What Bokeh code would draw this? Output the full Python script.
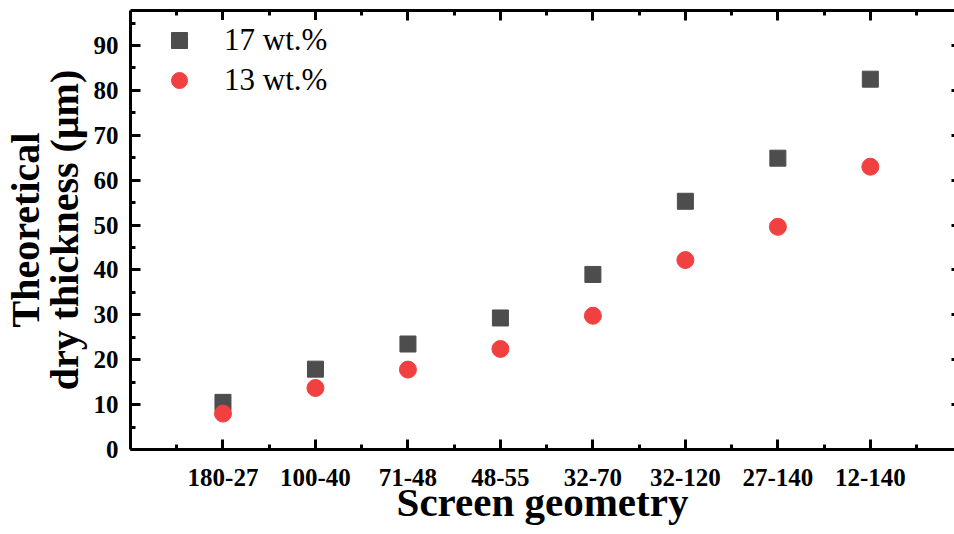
from bokeh.plotting import figure
from bokeh.models import (ColumnDataSource, Range1d, LinearAxis, FixedTicker,
                          Legend, LegendItem)
from bokeh.embed import file_html
from bokeh.resources import INLINE

categories = ["180-27", "100-40", "71-48", "48-55", "32-70", "32-120", "27-140", "12-140"]
positions = [1, 2, 3, 4, 5, 6, 7, 8]
wt17 = [10.5, 17.9, 23.5, 29.3, 39.0, 55.3, 64.9, 82.5]
wt13 = [8.0, 13.7, 17.8, 22.4, 29.8, 42.2, 49.6, 63.0]
y_ticks = [0, 10, 20, 30, 40, 50, 60, 70, 80, 90]
y_minor = [5, 15, 25, 35, 45, 55, 65, 75, 85, 95]
x_minor = [0.5, 1.5, 2.5, 3.5, 4.5, 5.5, 6.5, 7.5, 8.5]
x_title = "Screen geometry"
y_title = "Theoretical\ndry thickness (\u03bcm)"

FONT = "Liberation Serif"

p = figure(width=954, height=534, output_backend="svg", toolbar_location=None,
           x_range=Range1d(0, 8.91), y_range=Range1d(0, 97.8),
           min_border_left=130, min_border_right=0, min_border_top=10,
           min_border_bottom=85, x_axis_type=None, y_axis_type=None)
p.outline_line_color = None
p.background_fill_color = "white"
p.border_fill_color = "white"

xticker = FixedTicker(ticks=positions, minor_ticks=x_minor)
yticker = FixedTicker(ticks=y_ticks, minor_ticks=y_minor)


def style_axis(ax, labels=True):
    ax.axis_line_width = 3
    ax.axis_line_color = "black"
    ax.major_tick_line_width = 3
    ax.minor_tick_line_width = 3
    ax.major_tick_in = 10
    ax.major_tick_out = 0
    ax.minor_tick_in = 5
    ax.minor_tick_out = 0
    ax.major_label_text_font = FONT
    ax.major_label_text_font_style = "bold"
    ax.major_label_text_font_size = "25px"
    ax.major_label_text_color = "black"
    ax.axis_label_text_font = FONT
    ax.axis_label_text_font_style = "bold"
    ax.axis_label_text_color = "black"
    if not labels:
        ax.major_label_text_alpha = 0
        ax.major_label_text_font_size = "0px"
        ax.major_label_standoff = 0


xb = LinearAxis(ticker=xticker, axis_label=x_title,
                major_label_overrides={k: v for k, v in zip(positions, categories)})
style_axis(xb)
xb.major_label_standoff = 19
xb.axis_label_text_font_size = "41px"
xb.axis_label_standoff = -10
p.add_layout(xb, "below")

yl = LinearAxis(ticker=yticker, axis_label=y_title)
style_axis(yl)
yl.major_label_standoff = 12
yl.axis_label_text_font_size = "40px"
yl.axis_label_text_line_height = 0.85
yl.axis_label_standoff = 4
p.add_layout(yl, "left")

xt = LinearAxis(ticker=xticker)
style_axis(xt, labels=False)
p.add_layout(xt, "above")

yr = LinearAxis(ticker=yticker)
style_axis(yr, labels=False)
yr.axis_line_color = None
yr.major_tick_in = 3
yr.minor_tick_in = 0
p.add_layout(yr, "right")

p.xgrid.ticker = xticker
p.ygrid.ticker = yticker
for g in (p.xgrid, p.ygrid):
    g.grid_line_color = "#b4b4b4"
    g.grid_line_dash = "4 3"
    g.grid_line_width = 1

src = ColumnDataSource(dict(x=positions, a=wt17, b=wt13))
r1 = p.scatter("x", "a", source=src, marker="square", size=16,
               fill_color="#4d4d4d", line_color="#4d4d4d")
r2 = p.scatter("x", "b", source=src, marker="circle", size=17,
               fill_color="#f04040", line_color="#f04040")

legend = Legend(items=[LegendItem(label="17 wt.%", renderers=[r1]),
                       LegendItem(label="13 wt.%", renderers=[r2])],
                location=(29, 349), padding=4, margin=0,
                glyph_width=40, glyph_height=40, label_height=40,
                label_standoff=25, spacing=0,
                label_text_font=FONT, label_text_font_size="31px",
                label_text_color="black",
                border_line_color=None, background_fill_color="white",
                background_fill_alpha=1.0)
p.add_layout(legend)

open("out.html", "w").write(file_html(p, INLINE))
